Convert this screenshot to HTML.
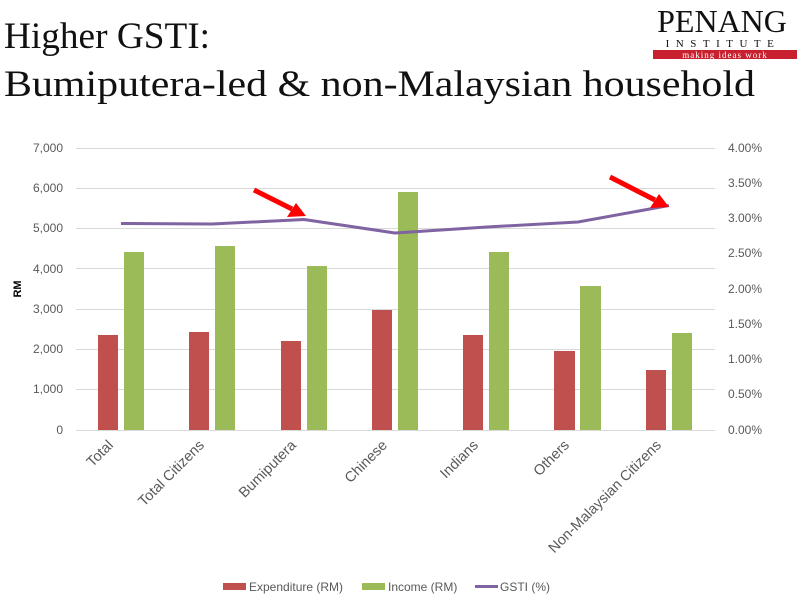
<!DOCTYPE html>
<html><head><meta charset="utf-8"><style>
body{margin:0;background:#fff;}
</style></head><body>
<svg width="801" height="600" xmlns="http://www.w3.org/2000/svg" style="display:block">
<text x="4" y="48" font-family="Liberation Serif, serif" font-size="37" fill="#111" textLength="206" lengthAdjust="spacingAndGlyphs">Higher GSTI:</text>
<text x="4" y="96" font-family="Liberation Serif, serif" font-size="37" fill="#111" textLength="751" lengthAdjust="spacingAndGlyphs">Bumiputera-led &amp; non-Malaysian household</text>
<text x="722" y="32" text-anchor="middle" font-family="Liberation Serif, serif" font-size="32" fill="#111">PENANG</text>
<text x="723" y="47" text-anchor="middle" font-family="Liberation Serif, serif" font-size="11" letter-spacing="6.5" fill="#111">INSTITUTE</text>
<rect x="653" y="50" width="144" height="9" fill="#c8202e"/>
<text x="725" y="58" text-anchor="middle" font-family="Liberation Serif, serif" font-size="9" letter-spacing="1" fill="#fff">making ideas work</text>
<g stroke="#d9d9d9" stroke-width="1">
<line x1="76" x2="715" y1="148.5" y2="148.5"/><line x1="76" x2="715" y1="188.5" y2="188.5"/>
<line x1="76" x2="715" y1="228.5" y2="228.5"/><line x1="76" x2="715" y1="268.5" y2="268.5"/>
<line x1="76" x2="715" y1="309.5" y2="309.5"/><line x1="76" x2="715" y1="349.5" y2="349.5"/>
<line x1="76" x2="715" y1="389.5" y2="389.5"/><line x1="76" x2="715" y1="430.5" y2="430.5"/>
</g>
<g font-family="Liberation Sans, sans-serif" font-size="12" fill="#595959" text-anchor="end">
<text x="63" y="152">7,000</text><text x="63" y="192">6,000</text><text x="63" y="232">5,000</text>
<text x="63" y="273">4,000</text><text x="63" y="313">3,000</text><text x="63" y="353">2,000</text>
<text x="63" y="393">1,000</text><text x="63" y="434">0</text>
</g>
<g font-family="Liberation Sans, sans-serif" font-size="12" fill="#595959">
<text x="728" y="152">4.00%</text><text x="728" y="187">3.50%</text><text x="728" y="222">3.00%</text>
<text x="728" y="257">2.50%</text><text x="728" y="293">2.00%</text><text x="728" y="328">1.50%</text>
<text x="728" y="363">1.00%</text><text x="728" y="398">0.50%</text><text x="728" y="434">0.00%</text>
</g>
<text transform="translate(21,289) rotate(-90)" text-anchor="middle" font-family="Liberation Sans, sans-serif" font-size="11" font-weight="bold" fill="#000">RM</text>
<g fill="#c0504d">
<rect x="98" y="335" width="20" height="95"/><rect x="189" y="332" width="20" height="98"/>
<rect x="281" y="341" width="20" height="89"/><rect x="372" y="310" width="20" height="120"/>
<rect x="463" y="335" width="20" height="95"/><rect x="554" y="351" width="21" height="79"/>
<rect x="646" y="370" width="20" height="60"/>
</g>
<g fill="#9bbb59">
<rect x="124" y="252" width="20" height="178"/><rect x="215" y="246" width="20" height="184"/>
<rect x="307" y="266" width="20" height="164"/><rect x="398" y="192" width="20" height="238"/>
<rect x="489" y="252" width="20" height="178"/><rect x="580" y="286" width="21" height="144"/>
<rect x="672" y="333" width="20" height="97"/>
</g>
<polyline points="121,223.5 212,224 304,219.5 395,233 487,227 578,222 669,205.5" fill="none" stroke="#8064a2" stroke-width="3" stroke-linejoin="round"/>
<g fill="#ff0000" stroke="#ff0000">
<line x1="254" y1="190" x2="292" y2="209" stroke-width="5"/>
<polygon points="306,216 287,217 296,203" stroke="none"/>
<line x1="610" y1="177" x2="655" y2="200" stroke-width="5"/>
<polygon points="669,207 650,208 659,194" stroke="none"/>
</g>
<g font-family="Liberation Sans, sans-serif" font-size="14.5" fill="#595959" text-anchor="end">
<text transform="translate(114,446) rotate(-45)">Total</text>
<text transform="translate(205,446) rotate(-45)">Total Citizens</text>
<text transform="translate(297,446) rotate(-45)">Bumiputera</text>
<text transform="translate(388,446) rotate(-45)">Chinese</text>
<text transform="translate(479,446) rotate(-45)">Indians</text>
<text transform="translate(570,446) rotate(-45)">Others</text>
<text transform="translate(662,446) rotate(-45)">Non-Malaysian Citizens</text>
</g>
<rect x="223" y="583" width="23" height="7" fill="#c0504d"/>
<rect x="362" y="583" width="23" height="7" fill="#9bbb59"/>
<line x1="475" x2="498" y1="586.5" y2="586.5" stroke="#8064a2" stroke-width="3"/>
<g font-family="Liberation Sans, sans-serif" font-size="12" fill="#595959">
<text x="249" y="591">Expenditure (RM)</text>
<text x="388" y="591">Income (RM)</text>
<text x="500" y="591">GSTI (%)</text>
</g>
</svg>
</body></html>
